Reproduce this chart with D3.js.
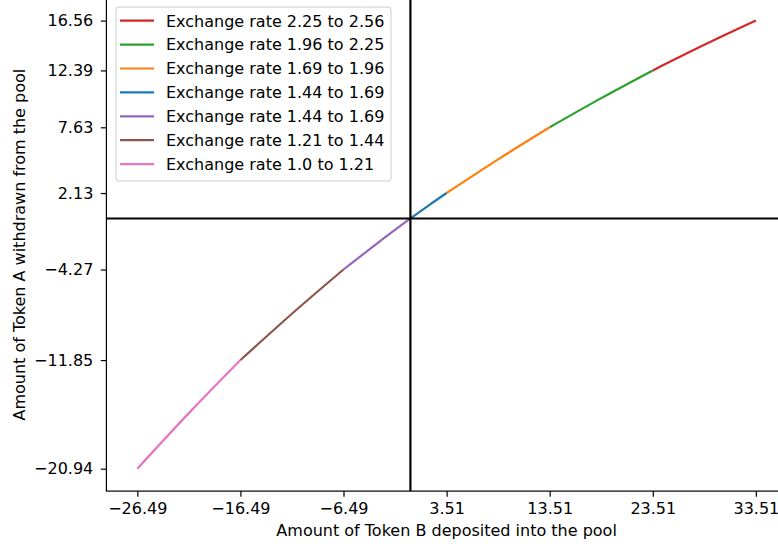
<!DOCTYPE html>
<html>
<head>
<meta charset="utf-8">
<script src="https://cdn.jsdelivr.net/npm/d3@7"></script>
<style>
  body { margin: 0; background: #fff; }
  svg text { font-family: "DejaVu Sans", sans-serif; }
</style>
</head>
<body>
<div id="chart-area"></div>
<script>
// series, in legend order
const labels = [
    "Exchange rate 2.25 to 2.56",
    "Exchange rate 1.96 to 2.25",
    "Exchange rate 1.69 to 1.96",
    "Exchange rate 1.44 to 1.69",
    "Exchange rate 1.44 to 1.69",
    "Exchange rate 1.21 to 1.44",
    "Exchange rate 1.0 to 1.21"
];
const colors = ["#d62728", "#2ca02c", "#ff7f0e", "#1f77b4", "#9467bd", "#8c564b", "#e377c2"];

const tokenB = [
    [23.51, 28.51, 33.51],
    [13.51, 18.51, 23.51],
    [3.51, 8.51, 13.51],
    [0, 1.75, 3.51],
    [-6.49, -3.25, 0],
    [-16.49, -11.49, -6.49],
    [-26.49, -21.49, -16.49]
];
const tokenA = [
    [12.39, 14.53, 16.56],
    [7.63, 10.07, 12.39],
    [2.13, 4.95, 7.63],
    [0, 1.08, 2.13],
    [-4.27, -2.10, 0],
    [-11.85, -7.97, -4.27],
    [-20.94, -16.29, -11.85]
];

const xTicks = [-26.49, -16.49, -6.49, 3.51, 13.51, 23.51, 33.51];
const yTicks = [-20.94, -11.85, -4.27, 2.13, 7.63, 12.39, 16.56];

const renderChart = () => {
    const w = 778;
    const h = 550;
    const left = 106.4, right = 786.8, top = -1.8, bottom = 491.1;
    const fontSize = "16px";

    const allX = tokenB.flat();
    const allY = tokenA.flat();
    const xMin = d3.min(allX), xMax = d3.max(allX);
    const yMin = d3.min(allY), yMax = d3.max(allY);
    const xPad = (xMax - xMin) * 0.05;
    const yPad = (yMax - yMin) * 0.05;

    const xScale = d3.scaleLinear()
        .domain([xMin - xPad, xMax + xPad])
        .range([left, right]);
    const yScale = d3.scaleLinear()
        .domain([yMin - yPad, yMax + yPad])
        .range([bottom, top]);

    const svg = d3.select("#chart-area")
        .append("svg")
        .attr("width", w)
        .attr("height", h);

    svg.append("defs").append("clipPath")
        .attr("id", "clip")
        .append("rect")
        .attr("x", left).attr("y", top)
        .attr("width", right - left).attr("height", bottom - top);

    const plot = svg.append("g").attr("clip-path", "url(#clip)");

    const line = d3.line()
        .x(d => xScale(d[0]))
        .y(d => yScale(d[1]))
        .curve(d3.curveMonotoneX);

    labels.forEach((lab, i) => {
        const pts = tokenB[i].map((x, j) => [x, tokenA[i][j]]);
        plot.append("path")
            .datum(pts)
            .attr("d", line)
            .attr("fill", "none")
            .attr("stroke", colors[i])
            .attr("stroke-width", 2.2);
    });

    // zero lines
    plot.append("line")
        .attr("x1", left).attr("x2", right)
        .attr("y1", yScale(0)).attr("y2", yScale(0))
        .attr("stroke", "black").attr("stroke-width", 2.2);
    plot.append("line")
        .attr("x1", xScale(0)).attr("x2", xScale(0))
        .attr("y1", top).attr("y2", bottom)
        .attr("stroke", "black").attr("stroke-width", 2.2);

    const fmt = d => String(d).replace("-", "\u2212");

    const xAxis = d3.axisBottom(xScale).tickValues(xTicks).tickFormat(fmt)
        .tickSize(5.6).tickPadding(5.6).tickSizeOuter(0);
    const yAxis = d3.axisLeft(yScale).tickValues(yTicks).tickFormat(fmt)
        .tickSize(5.6).tickPadding(7.5).tickSizeOuter(0);

    const gx = svg.append("g")
        .attr("transform", "translate(0," + bottom + ")")
        .call(xAxis);
    const gy = svg.append("g")
        .attr("transform", "translate(" + left + ",0)")
        .call(yAxis);

    [gx, gy].forEach(g => {
        g.select(".domain").remove();
        g.selectAll(".tick line").attr("stroke", "black").attr("stroke-width", 1.2);
        g.selectAll(".tick text").attr("fill", "black").style("font-size", fontSize);
    });

    // frame
    svg.append("rect")
        .attr("x", left).attr("y", top)
        .attr("width", right - left).attr("height", bottom - top)
        .attr("fill", "none")
        .attr("stroke", "black")
        .attr("stroke-width", 1.2);

    svg.append("text")
        .attr("x", (left + right) / 2)
        .attr("y", 536)
        .attr("text-anchor", "middle")
        .style("font-size", fontSize)
        .text("Amount of Token B deposited into the pool");

    svg.append("text")
        .attr("transform", "translate(25," + ((top + bottom) / 2) + ") rotate(-90)")
        .attr("text-anchor", "middle")
        .style("font-size", fontSize)
        .text("Amount of Token A withdrawn from the pool");

    const legend = svg.append("g")
        .attr("transform", "translate(116, 7)");

    legend.append("rect")
        .attr("width", 275)
        .attr("height", 174)
        .attr("rx", 3)
        .attr("fill", "white")
        .attr("fill-opacity", 0.8)
        .attr("stroke", "#cccccc");

    labels.forEach((lab, i) => {
        const cy = 13.7 + i * 23.9;
        legend.append("line")
            .attr("x1", 4).attr("x2", 38)
            .attr("y1", cy).attr("y2", cy)
            .attr("stroke", colors[i])
            .attr("stroke-width", 2.2);
        legend.append("text")
            .attr("x", 50)
            .attr("y", cy + 5.8)
            .style("font-size", fontSize)
            .text(lab);
    });
}

renderChart();
</script>
</body>
</html>
